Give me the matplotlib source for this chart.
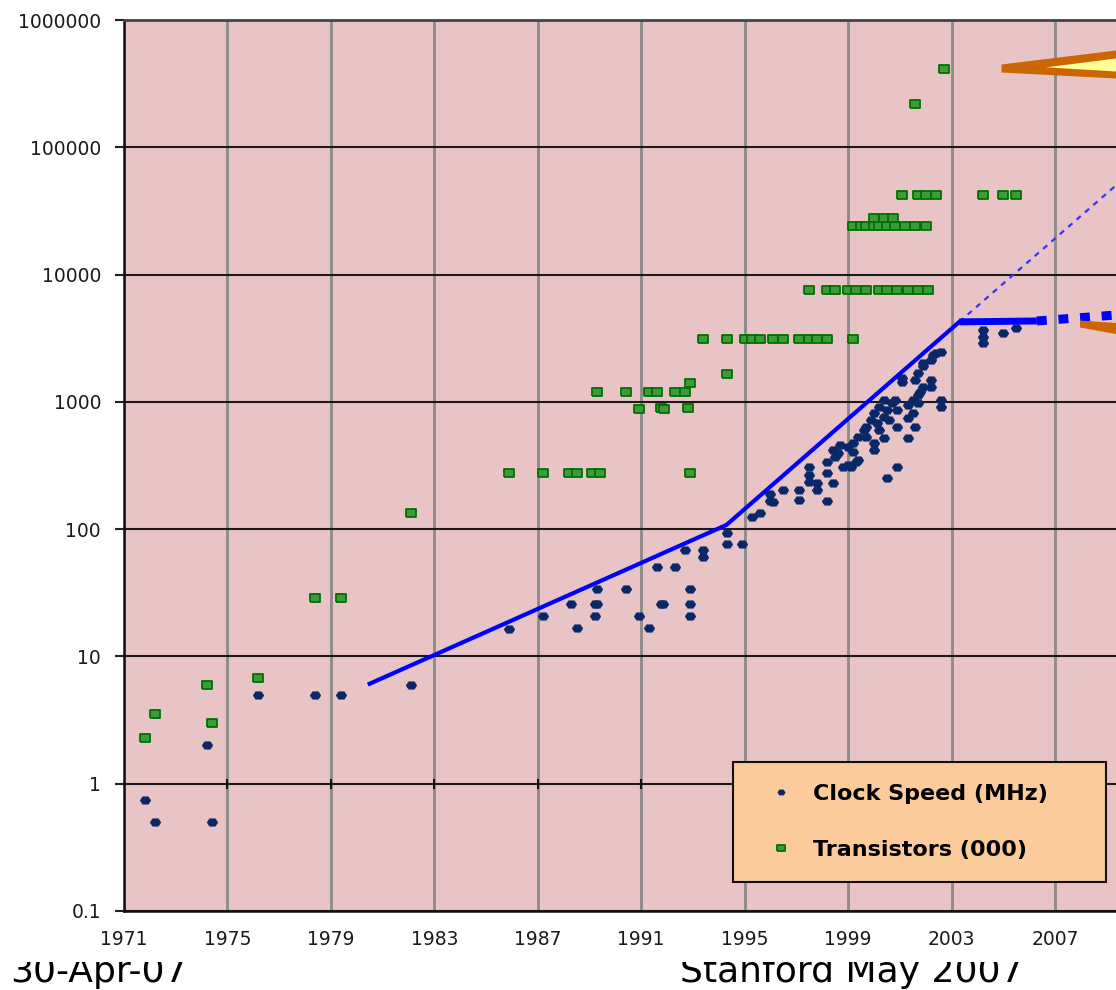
import matplotlib.pyplot as plt
from matplotlib.patches import Polygon, Rectangle
from matplotlib.ticker import NullLocator

# Clock speed (MHz)
clock_years = [1971.8, 1972.2, 1974.2, 1974.4, 1976.2, 1978.4, 1979.4, 1982.1,
               1985.9, 1987.2, 1988.3, 1988.5, 1989.2, 1989.3, 1989.2, 1989.3,
               1990.4, 1990.9, 1991.3, 1991.6, 1991.75, 1991.85, 1992.3, 1992.7,
               1992.9, 1992.9, 1992.9, 1993.4, 1993.4, 1994.3, 1994.3, 1994.9,
               1995.3, 1995.6, 1996.0, 1996.0, 1996.1, 1996.5, 1997.1, 1997.1,
               1997.5, 1997.5, 1997.5, 1997.8, 1997.8, 1998.2, 1998.2, 1998.2,
               1998.4, 1998.4, 1998.5, 1998.6, 1998.7, 1998.8, 1999.0, 1999.0,
               1999.1, 1999.2, 1999.2, 1999.3, 1999.4, 1999.4, 1999.6, 1999.7,
               1999.7, 1999.9, 2000.0, 2000.0, 2000.0, 2000.1, 2000.2, 2000.2,
               2000.4, 2000.4, 2000.4, 2000.5, 2000.5, 2000.6, 2000.7, 2000.8,
               2000.9, 2000.9, 2000.9, 2001.1, 2001.1, 2001.3, 2001.3, 2001.3,
               2001.5, 2001.5, 2001.6, 2001.6, 2001.7, 2001.7, 2001.7, 2001.8,
               2001.9, 2001.9, 2001.9, 2002.2, 2002.2, 2002.2, 2002.3, 2002.4,
               2002.6, 2002.6, 2002.6, 2004.2, 2004.2, 2004.2, 2005.0, 2005.5]
clock_mhz = [0.75, 0.5, 2.0, 0.5, 5, 5, 5, 6,
             16.4, 20.8, 25.8, 16.6, 25.8, 25.8, 20.8, 33.7,
             33.7, 20.8, 16.6, 50, 25.8, 25.8, 50, 68.8,
             33.7, 25.8, 20.8, 68.8, 60.8, 93.7, 76.6, 76.6,
             125, 135, 190, 166, 162, 203, 203, 170,
             310, 267, 236, 229, 203, 339, 167, 275,
             232, 419, 371, 394, 459, 310, 445, 320,
             310, 473, 406, 339, 533, 350, 601, 533,
             638, 721, 813, 473, 419, 679, 601, 916,
             1035, 766, 518, 863, 251, 721, 975, 1035,
             863, 638, 310, 1442, 1531, 518, 743, 946,
             813, 1035, 638, 1486, 975, 1133, 1679, 1202,
             1316, 2011, 1900, 1316, 2133, 1486, 2335, 2400,
             2478, 1035, 907, 3670, 3250, 2885, 3500, 3790]

# Transistors (thousands)
trans_years = [1971.8, 1972.2, 1974.2, 1974.4, 1976.2, 1978.4, 1979.4, 1982.1,
               1985.9, 1987.2, 1988.2, 1988.5, 1989.1, 1989.4, 1992.9,
               1989.3, 1990.4, 1991.3, 1991.6, 1992.3, 1992.7, 1992.9,
               1990.9, 1991.75, 1991.9, 1992.8, 1994.3,
               1993.4, 1994.3, 1995.0, 1995.3, 1995.6, 1996.1, 1996.5, 1997.1,
               1997.5, 1997.8, 1998.2, 1999.2,
               1997.5, 1998.2, 1998.5, 1999.0, 1999.3, 1999.7, 2000.2, 2000.5,
               2000.9, 2001.3, 2001.7, 2002.1,
               1999.2, 1999.5, 1999.7, 2000.0, 2000.2, 2000.5, 2000.8, 2001.2,
               2001.6, 2002.0,
               2000.0, 2000.4, 2000.75,
               2001.1, 2001.7, 2002.0, 2002.4, 2004.2, 2005.0, 2005.5,
               2001.6, 2002.7]
trans_k = [2.3, 3.5, 6.0, 3.0, 6.8, 29, 29, 134,
           275, 275, 275, 275, 275, 275, 275,
           1200, 1200, 1200, 1200, 1200, 1200, 1400,
           880, 900, 880, 900, 1650,
           3100, 3100, 3100, 3100, 3100, 3100, 3100, 3100,
           3100, 3100, 3100, 3100,
           7500, 7500, 7500, 7500, 7500, 7500, 7500, 7500,
           7500, 7500, 7500, 7500,
           24000, 24000, 24000, 24000, 24000, 24000, 24000, 24000,
           24000, 24000,
           28000, 28000, 28000,
           42000, 42000, 42000, 42000, 42000, 42000, 42000,
           220000, 410000]

# trend lines
rise_years = [1980.5, 1994.3, 2003.3]
rise_vals = [6.1, 108, 4250]
plateau_years = [2003.3, 2006.3]
plateau_vals = [4250, 4320]
plateau_dash_years = [2006.3, 2011]
plateau_dash_vals = [4320, 5100]
extrap_years = [2003.3, 2011]
extrap_vals = [4250, 98000]

x_ticks = [1971, 1975, 1979, 1983, 1987, 1991, 1995, 1999, 2003, 2007]
y_ticks = [0.1, 1, 10, 100, 1000, 10000, 100000, 1000000]
y_labels = ['0.1', '1', '10', '100', '1000', '10000', '100000', '1000000']

W, H = 1116, 990
def px(x, y):
    return (x / W, 1 - y / H)

# marker shapes: flat hexagon for clock, wide box for transistors
hex_marker = [(-1, 0), (-0.55, 0.7), (0.55, 0.7), (1, 0), (0.55, -0.7), (-0.55, -0.7), (-1, 0)]
box_marker = [(-1, -0.78), (1, -0.78), (1, 0.78), (-1, 0.78), (-1, -0.78)]

fig = plt.figure(figsize=(W / 100, H / 100), dpi=100, facecolor='white')
ax = fig.add_axes([124 / W, 79 / H, 1034.4 / W, 891 / H], zorder=3)
ax.set_facecolor('#e9c4c7')
ax.set_yscale('log')
ax.set_xlim(1971, 2011)
ax.set_ylim(0.1, 1e6)
ax.set_axisbelow(True)

ax.set_xticks(x_ticks)
ax.set_xticklabels([str(t) for t in x_ticks])
ax.set_yticks(y_ticks)
ax.set_yticklabels(y_labels)
ax.yaxis.set_minor_locator(NullLocator())
ax.grid(axis='x', color='#8a8a8a', lw=2)
ax.grid(axis='y', color='#1a1a1a', lw=1.5)
ax.tick_params(axis='x', length=0, pad=14, labelsize=13.5, labelcolor='#1a1a1a')
ax.tick_params(axis='y', length=6.5, width=1.5, pad=10, labelsize=13.5,
               labelcolor='#1a1a1a', color='#222222')
for s in ['left', 'bottom']:
    ax.spines[s].set_color('#111111')
    ax.spines[s].set_linewidth(1.8)
ax.spines['top'].set_color('#444444')
ax.spines['top'].set_linewidth(2)
ax.spines['right'].set_visible(False)

# Excel-style tick marks where the category axis crosses at 1
ax.plot(x_ticks[1:], [1] * (len(x_ticks) - 1), ls='none', marker='|', ms=6.5,
        mew=1.5, color='#111111', zorder=2)

ax.plot(extrap_years, extrap_vals, color='#3333ff', lw=1.6, dashes=(2.5, 2.5), zorder=4)
ax.plot(trans_years, trans_k, ls='none', marker=box_marker, ms=7.5, mfc='#3c9c3c',
        mec='#007000', mew=1.3, label='Transistors (000)', zorder=5)
ax.plot(clock_years, clock_mhz, ls='none', marker=hex_marker, ms=7.5, mfc='#0a2768',
        mec='#0a2768', mew=0.5, label='Clock Speed (MHz)', zorder=6)
ax.plot(rise_years, rise_vals, color='#0000ff', lw=3, zorder=7)
ax.plot(plateau_years, plateau_vals, color='#0000ff', lw=5, solid_capstyle='butt', zorder=7)
ax.plot(plateau_dash_years, plateau_dash_vals, color='#0000ff', lw=6.5,
        dashes=(1.1, 1.3), zorder=7)

handles, labels = ax.get_legend_handles_labels()
x0 = (733 - 124) / 1034.4
x1 = (1106 - 124) / 1034.4
y0 = (911 - 882) / 891
leg = ax.legend(handles[::-1], labels[::-1], loc='lower left', mode='expand',
                bbox_to_anchor=(x0, y0, x1 - x0, 0.13), borderaxespad=0,
                frameon=True, fancybox=False,
                facecolor='#fccb9c', edgecolor='#111111', framealpha=1,
                prop={'weight': 'bold', 'size': 16}, markerscale=0.7,
                borderpad=1.0, labelspacing=1.6, handlelength=2.3,
                handletextpad=0.3)
leg.get_frame().set_linewidth(1.5)
leg.set_zorder(10)

# callout arrows
fig.patches.append(Polygon([px(1001.5, 64.5), px(1116, 50.5), px(1116, 78.5), px(1001.5, 72.5)],
                           closed=True, facecolor='#cc6600', edgecolor='none',
                           transform=fig.transFigure, zorder=6))
fig.patches.append(Polygon([px(1046, 67.3), px(1116, 58.5), px(1116, 71.5)],
                           closed=True, facecolor='#ffff99', edgecolor='none',
                           transform=fig.transFigure, zorder=7))
fig.patches.append(Polygon([px(1080, 320.5), px(1116, 323), px(1116, 334), px(1080, 327.5)],
                           closed=True, facecolor='#cc6600', edgecolor='none',
                           transform=fig.transFigure, zorder=6))

# footer text, top cut off by the chart picture above it
fig.text(10 / W, 8 / H, '30-Apr-07', fontsize=26, color='black', va='baseline', zorder=1)
fig.text(680 / W, 8 / H, 'Stanford May 2007', fontsize=26, color='black', va='baseline', zorder=1)
fig.patches.append(Rectangle((0, (H - 962) / H), 1, (962 - 900) / H,
                             transform=fig.transFigure, facecolor='white',
                             edgecolor='none', zorder=2))

fig.savefig('out.png', dpi=100, facecolor='white')
